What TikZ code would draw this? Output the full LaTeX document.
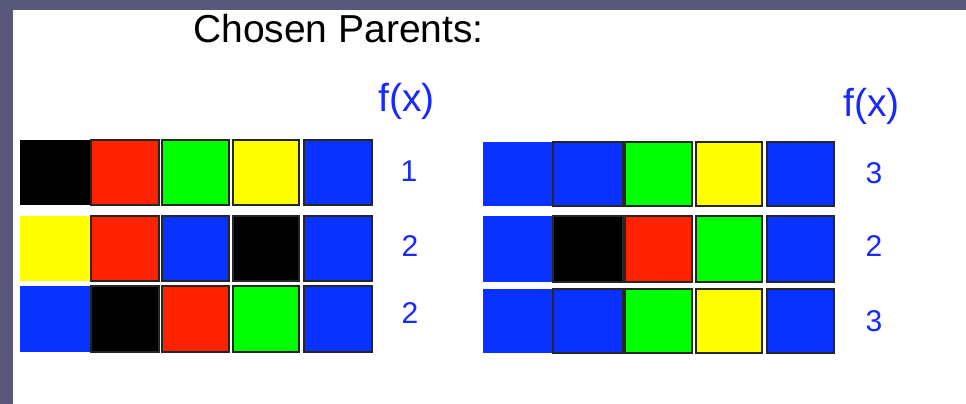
\documentclass[tikz,border=0pt]{standalone}
\usepackage{fontspec}
\setmainfont{Liberation Sans}
\definecolor{slide}{RGB}{88,88,124}
\definecolor{gblue}{RGB}{10,50,255}
\definecolor{gred}{RGB}{255,34,0}
\definecolor{ggreen}{RGB}{0,255,0}
\definecolor{gyellow}{RGB}{255,255,0}
\definecolor{gblack}{RGB}{0,0,0}
\definecolor{tblue}{RGB}{25,40,255}
\tikzset{
  gene/.style={inner sep=0pt,outer sep=0pt,draw=black!85,line width=1.5pt},
  firstgene/.style={inner sep=0pt,outer sep=0pt,draw=none},
  fxlabel/.style={anchor=base west,text=tblue,inner sep=0pt,font=\fontsize{39}{40}\selectfont},
  fitval/.style={text=tblue,inner sep=0pt,font=\fontsize{30}{31}\selectfont},
  titletext/.style={anchor=base west,inner sep=0pt,font=\fontsize{39}{40}\selectfont}
}
\begin{document}
\begin{tikzpicture}[x=1pt,y=-1pt]
\fill[slide] (0,0) rectangle (966,404);
\fill[white] (13,10) rectangle (966,404);
\useasboundingbox (0,0) rectangle (966,404);

\node[titletext] (title) at (193,43) {Chosen Parents:};
\node[fxlabel] (fxL) at (378,111) {f(x)};
\node[fxlabel] (fxR) at (843,116) {f(x)};

% left parents
\foreach \r/\ya/\yb/\ca/\cb/\cc/\cd/\ce in {
  1/140/205/gblack/gred/ggreen/gyellow/gblue,
  2/216/281/gyellow/gred/gblue/gblack/gblue,
  3/286/352/gblue/gblack/gred/ggreen/gblue}{
  \node[firstgene,fill=\ca,minimum width=71pt,minimum height={\yb pt-\ya pt}] (L\r c1) at (55.5,{(\ya+\yb)/2}) {};
  \foreach \k/\xa/\xb/\col in {2/91/159/\cb,3/162/229/\cc,4/233/299/\cd,5/304/372/\ce}{
    \node[gene,fill=\col,minimum width={\xb pt-\xa pt},minimum height={\yb pt-\ya pt}] (L\r c\k) at ({(\xa+\xb)/2},{(\ya+\yb)/2}) {};
  }
}

% right parents
\foreach \r/\ya/\yb/\ca/\cb/\cc/\cd/\ce in {
  1/142/206/gblue/gblue/ggreen/gyellow/gblue,
  2/216/282/gblue/gblack/gred/ggreen/gblue,
  3/289/353/gblue/gblue/ggreen/gyellow/gblue}{
  \node[firstgene,fill=\ca,minimum width=70pt,minimum height={\yb pt-\ya pt}] (R\r c1) at (518,{(\ya+\yb)/2}) {};
  \foreach \k/\xa/\xb/\col in {2/553/623/\cb,3/625/692/\cc,4/696/762/\cd,5/767/834/\ce}{
    \node[gene,fill=\col,minimum width={\xb pt-\xa pt},minimum height={\yb pt-\ya pt}] (R\r c\k) at ({(\xa+\xb)/2},{(\ya+\yb)/2}) {};
  }
}

\node[fitval] (fL1) at (409,171) {1};
\node[fitval] (fL2) at (410,246) {2};
\node[fitval] (fL3) at (410,313) {2};
\node[fitval] (fR1) at (874,173) {3};
\node[fitval] (fR2) at (874,246) {2};
\node[fitval] (fR3) at (874,321) {3};
\end{tikzpicture}
\end{document}
